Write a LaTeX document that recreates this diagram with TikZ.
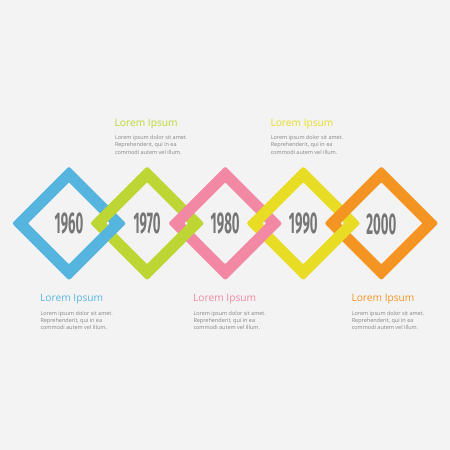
\documentclass[tikz,border=0pt]{standalone}
\usepackage{fontspec}
\setmainfont{Open Sans}
\newfontfamily\yearfont[FakeStretch=0.44]{Fira Sans}
\usetikzlibrary{calc}
\definecolor{bgc}{HTML}{F3F3F3}
\definecolor{cblue}{HTML}{56B5DF}
\definecolor{cgreen}{HTML}{BDD634}
\definecolor{cpink}{HTML}{F288A3}
\definecolor{cyellow}{HTML}{E8DC25}
\definecolor{corange}{HTML}{F39423}
\definecolor{yeargray}{HTML}{767676}
\definecolor{bodygray}{HTML}{858585}
\tikzset{
  ring/.style={even odd rule},
  year/.style={text=yeargray, font=\yearfont\bfseries\fontsize{30}{30}\selectfont, inner sep=0pt},
  head/.style={anchor=west, inner sep=0pt, font=\fontsize{10.2}{11}\selectfont},
  body/.style={anchor=north west, inner sep=0pt, text=bodygray, align=left,
    font=\fontsize{5.5}{7.3}\selectfont},
}
\newcommand\ringpath[1]{[rounded corners=2.2pt] ($(#1)+(0,-57)$) -- ($(#1)+(57,0)$) -- ($(#1)+(0,57)$) -- ($(#1)+(-57,0)$) -- cycle
  [rounded corners=0.8pt] ($(#1)+(0,-41)$) -- ($(#1)+(41,0)$) -- ($(#1)+(0,41)$) -- ($(#1)+(-41,0)$) -- cycle}
\begin{document}
\begin{tikzpicture}[x=1pt,y=-1pt]
\fill[bgc] (0,0) rectangle (450,450);
\useasboundingbox (0,0) rectangle (450,450);
\coordinate (c1) at (69,223.3);
\coordinate (c2) at (147.1,223.3);
\coordinate (c3) at (225.2,223.3);
\coordinate (c4) at (303.3,223.3);
\coordinate (c5) at (381.4,223.3);
% rings, later ones on top
\fill[ring, cblue] \ringpath{c1};
\fill[ring, cgreen] \ringpath{c2};
\fill[ring, cpink] \ringpath{c3};
\fill[ring, cyellow] \ringpath{c4};
\fill[ring, corange] \ringpath{c5};
% lower crossings: earlier ring on top
\begin{scope}
\clip ($(c1)+(0,0.6)$) rectangle ($(c2)+(0,70)$);
\fill[ring, cblue] \ringpath{c1};
\end{scope}
\begin{scope}
\clip ($(c2)+(0,0.6)$) rectangle ($(c3)+(0,70)$);
\fill[ring, cgreen] \ringpath{c2};
\end{scope}
\begin{scope}
\clip ($(c3)+(0,0.6)$) rectangle ($(c4)+(0,70)$);
\fill[ring, cpink] \ringpath{c3};
\end{scope}
\begin{scope}
\clip ($(c4)+(0,0.6)$) rectangle ($(c5)+(0,70)$);
\fill[ring, cyellow] \ringpath{c4};
\end{scope}
% years
\node[year] (y1) at ($(c1)+(0,0.7)$) {1960};
\node[year] (y2) at ($(c2)+(0,0.7)$) {1970};
\node[year] (y3) at ($(c3)+(0,0.7)$) {1980};
\node[year] (y4) at ($(c4)+(0,0.7)$) {1990};
\node[year] (y5) at ($(c5)+(0,0.7)$) {2000};
% texts
\node[head, text=cgreen] (h2) at (114.5,123.7) {Lorem Ipsum};
\node[body] (b2) at (114.8,135.3) {Lorem ipsum dolor sit amet.\\Reprehenderit, qui in ea\\commodi autem vel illum.};
\node[head, text=cyellow] (h4) at (270.3,123.7) {Lorem Ipsum};
\node[body] (b4) at (270.6,135.3) {Lorem ipsum dolor sit amet.\\Reprehenderit, qui in ea\\commodi autem vel illum.};
\node[head, text=cblue] (h1) at (40,299.3) {Lorem Ipsum};
\node[body] (b1) at (40.3,311) {Lorem ipsum dolor sit amet.\\Reprehenderit, qui in ea\\commodi autem vel illum.};
\node[head, text=cpink] (h3) at (193,299.3) {Lorem Ipsum};
\node[body] (b3) at (193.3,311) {Lorem ipsum dolor sit amet.\\Reprehenderit, qui in ea\\commodi autem vel illum.};
\node[head, text=corange] (h5) at (351.3,299.3) {Lorem Ipsum};
\node[body] (b5) at (351.6,311) {Lorem ipsum dolor sit amet.\\Reprehenderit, qui in ea\\commodi autem vel illum.};
\end{tikzpicture}
\end{document}
